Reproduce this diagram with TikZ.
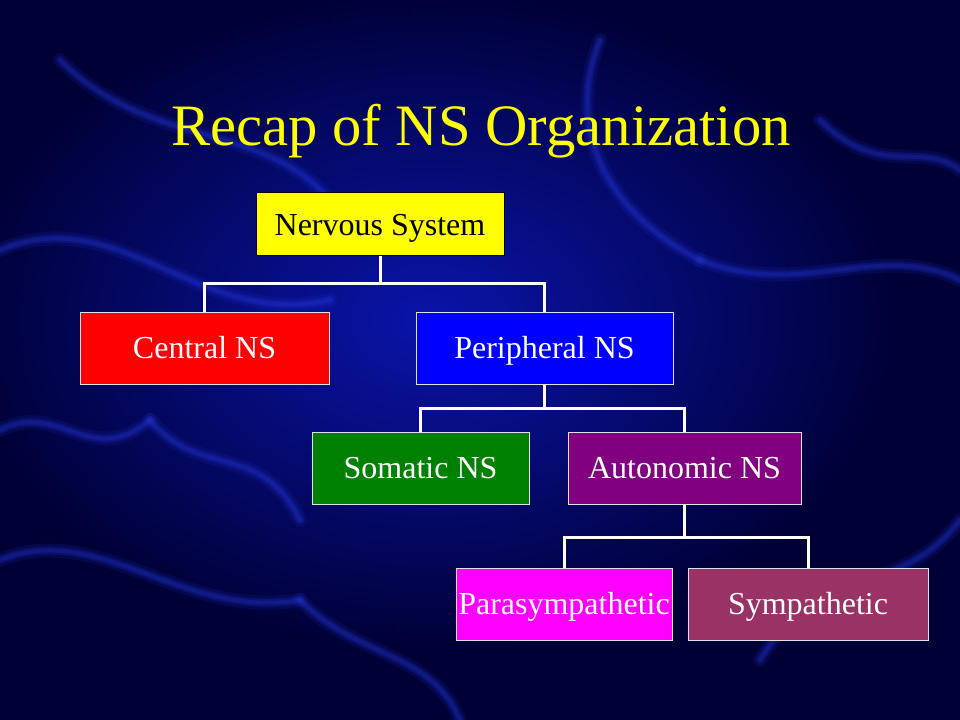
\documentclass[tikz,border=0pt]{standalone}
\usepackage{fontspec}
\setmainfont{Liberation Serif}
\newdimen\pxu \pxu=0.75pt
\definecolor{bgdark}{RGB}{0,0,55}
\definecolor{bgmid}{RGB}{10,20,170}
\definecolor{strand}{RGB}{40,60,230}
\definecolor{titleyellow}{RGB}{255,255,0}
\definecolor{cnsred}{RGB}{255,0,0}
\definecolor{pnsblue}{RGB}{0,0,255}
\definecolor{somgreen}{RGB}{0,128,0}
\definecolor{autpurple}{RGB}{128,0,128}
\definecolor{paramag}{RGB}{255,0,255}
\definecolor{sympplum}{RGB}{153,51,102}
\definecolor{boxedge}{RGB}{225,225,235}
\begin{document}
\begin{tikzpicture}[x=0.75pt,y=-0.75pt,
  box/.style={rectangle, draw=boxedge, line width=1\pxu, text=white,
    font=\fontsize{24}{28}\selectfont, inner sep=0pt,
    text height=15.9pt, text depth=0pt},
  conn/.style={draw=white, line width=3\pxu, line join=miter},
  strandpath/.style={strand, line cap=round}]
\useasboundingbox (0,0) rectangle (960,720);
\fill[bgdark] (0,0) rectangle (960,720);
\shade[inner color=bgmid, outer color=bgdark] (430,320) ellipse (470 and 330);
% faint neuron-like strands (soft, layered)
\foreach \w/\o in {14/0.12, 8/0.18, 4/0.22}{
\begin{scope}[strandpath, line width=\w\pxu, opacity=\o]
\draw (0,250) .. controls (120,200) and (200,330) .. (330,300);
\draw (60,60) .. controls (150,150) and (260,120) .. (330,200);
\draw (600,40) .. controls (560,140) and (620,220) .. (700,260);
\draw (700,260) .. controls (800,300) and (880,240) .. (960,280);
\draw (0,560) .. controls (100,520) and (180,620) .. (300,600);
\draw (300,600) .. controls (360,660) and (430,650) .. (460,720);
\draw (760,660) .. controls (820,560) and (900,600) .. (960,520);
\draw (820,120) .. controls (880,180) and (920,140) .. (960,170);
\draw (150,420) .. controls (200,480) and (260,440) .. (300,520);
\draw (0,430) .. controls (60,400) and (90,470) .. (150,420);
\end{scope}}
\node[font=\fontsize{44}{50}\selectfont, text=titleyellow, inner sep=0pt,
  text height=29.1pt, text depth=0pt] (title) at (481,126) {Recap of NS Organization};
\node[box, fill=titleyellow, draw=black, text=black, minimum width=248\pxu, minimum height=63\pxu] (ns) at (380,224.5) {Nervous System};
\node[box, fill=cnsred, minimum width=249\pxu, minimum height=72\pxu] (cns) at (204.5,348) {Central NS};
\node[box, fill=pnsblue, minimum width=257\pxu, minimum height=72\pxu] (pns) at (544.5,348) {Peripheral NS};
\node[box, fill=somgreen, minimum width=217\pxu, minimum height=72\pxu] (som) at (420.5,468) {Somatic NS};
\node[box, fill=autpurple, minimum width=233\pxu, minimum height=72\pxu] (aut) at (684.5,468) {Autonomic NS};
\node[box, fill=paramag, minimum width=216\pxu, minimum height=72\pxu] (para) at (564,604) {Parasympathetic};
\node[box, fill=sympplum, minimum width=240\pxu, minimum height=72\pxu] (symp) at (808,604) {Sympathetic};
% connectors
\draw[conn] (ns.south) -- (ns.south |- 0,284);
\draw[conn] (cns.north) -- (cns.north |- 0,284) -| (pns.north);
\draw[conn] (pns.south) -- (pns.south |- 0,408);
\draw[conn] (som.north) -- (som.north |- 0,408) -| (aut.north);
\draw[conn] (aut.south) -- (aut.south |- 0,537);
\draw[conn] (para.north) -- (para.north |- 0,537) -| (symp.north);
\end{tikzpicture}
\end{document}
